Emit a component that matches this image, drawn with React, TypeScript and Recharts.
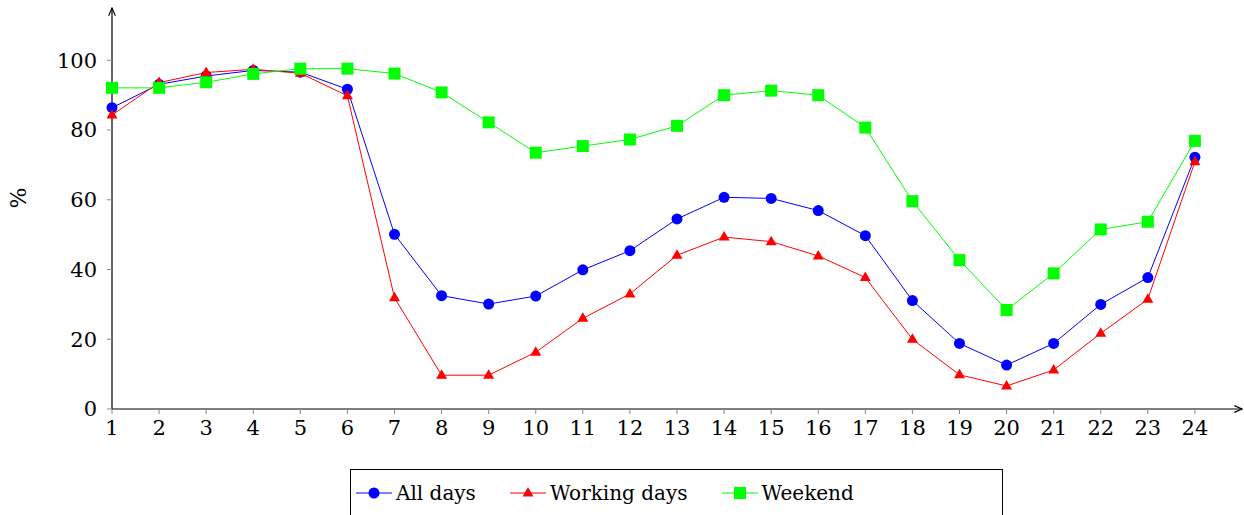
import { LineChart, Line, XAxis, YAxis, Legend } from "recharts"

// Hour of day
const hours = [1, 2, 3, 4, 5, 6, 7, 8, 9, 10, 11, 12, 13, 14, 15, 16, 17, 18, 19, 20, 21, 22, 23, 24]

// Share in %
const allDays = [86.4, 93.1, 95.5, 97.1, 96.6, 91.7, 50.1, 32.5, 30.1, 32.4, 39.9, 45.4, 54.5, 60.7, 60.4, 56.9, 49.7, 31.1, 18.8, 12.6, 18.8, 30.0, 37.7, 72.2]
const workingDays = [84.3, 93.6, 96.5, 97.4, 96.3, 89.8, 31.9, 9.7, 9.7, 16.3, 26.0, 33.0, 44.1, 49.3, 48.0, 43.9, 37.7, 20.0, 9.8, 6.6, 11.2, 21.7, 31.5, 70.9]
const weekend = [92.1, 92.1, 93.7, 96.1, 97.6, 97.6, 96.2, 90.8, 82.2, 73.5, 75.4, 77.3, 81.2, 90.0, 91.3, 90.0, 80.7, 59.6, 42.7, 28.4, 38.9, 51.5, 53.7, 76.9]

const yTicks = [0, 20, 40, 60, 80, 100]

const data = hours.map((h, i) => ({
  hour: h,
  all: allDays[i],
  working: workingDays[i],
  weekend: weekend[i],
}))

const FONT = "DejaVu Serif"

const SERIES = [
  { key: "all", name: "All days", color: "#0000ff", shape: "circle" },
  { key: "working", name: "Working days", color: "#ff0000", shape: "triangle" },
  { key: "weekend", name: "Weekend", color: "#00ff00", shape: "square" },
]

function Marker({ cx, cy, shape, color }: { cx: number; cy: number; shape: string; color: string }) {
  if (cx == null || cy == null) return null
  if (shape === "circle") return <circle cx={cx} cy={cy} r={5.5} fill={color} />
  if (shape === "triangle")
    return <polygon points={`${cx},${cy - 6} ${cx + 5.5},${cy + 3.5} ${cx - 5.5},${cy + 3.5}`} fill={color} />
  return <rect x={cx - 6} y={cy - 6} width={12} height={12} fill={color} />
}

function LegendBox() {
  return (
    <div
      style={{
        border: "1px solid #000",
        height: 48,
        display: "flex",
        alignItems: "center",
        fontFamily: FONT,
        fontSize: 20,
        paddingLeft: 5,
        boxSizing: "border-box",
        background: "#fff",
      }}
    >
      {SERIES.map((s, i) => (
        <div key={s.key} style={{ display: "flex", alignItems: "center", marginRight: i < 2 ? 34 : 0 }}>
          <svg width={36} height={16} style={{ marginRight: 4 }}>
            <line x1={0} y1={8} x2={36} y2={8} stroke={s.color} strokeWidth={1} />
            <Marker cx={18} cy={8} shape={s.shape} color={s.color} />
          </svg>
          <span>{s.name}</span>
        </div>
      ))}
    </div>
  )
}

export default function App() {
  return (
    <div style={{ position: "absolute", left: 0, top: 0, width: 1244, height: 515, background: "#fff", fontFamily: FONT }}>
      <LineChart width={1244} height={515} data={data} margin={{ top: 8, right: 2, left: 0, bottom: 28 }} style={{ fontFamily: FONT }}>
        <defs>
          <marker id="arrow" viewBox="0 0 10 10" refX="9" refY="5" markerWidth="8" markerHeight="8" orient="auto-start-reverse">
            <path d="M1,1.5 L9,5 L1,8.5" fill="none" stroke="#000" strokeWidth={1.2} />
          </marker>
        </defs>
        <XAxis
          dataKey="hour"
          type="number"
          domain={[1, 25]}
          ticks={hours}
          interval={0}
          height={30}
          tickSize={5}
          tickMargin={6}
          fontSize={21}
          fontFamily={FONT}
          axisLine={{ stroke: "#000", strokeWidth: 1.2, markerEnd: "url(#arrow)" }}
          tickLine={{ stroke: "#888" }}
          tick={{ fill: "#000", fontFamily: FONT, fontSize: 21 }}
        />
        <YAxis
          type="number"
          domain={[0, 115]}
          ticks={yTicks}
          width={112}
          tickSize={5}
          tickMargin={10}
          fontSize={21}
          fontFamily={FONT}
          axisLine={{ stroke: "#000", strokeWidth: 1.2, markerStart: "url(#arrow)" }}
          tickLine={{ stroke: "#888" }}
          tick={{ fill: "#000", fontFamily: FONT, fontSize: 21 }}
          label={{ value: "%", angle: -90, position: "insideLeft", offset: 18, fill: "#000", fontFamily: FONT, fontSize: 22 }}
        />
        <Legend
          content={() => <LegendBox />}
          wrapperStyle={{ position: "absolute", left: 350, top: 469, width: 653, height: 48, bottom: "auto" }}
        />
        {SERIES.map((s) => (
          <Line
            key={s.key}
            dataKey={s.key}
            name={s.name}
            type="linear"
            stroke={s.color}
            strokeWidth={1}
            isAnimationActive={false}
            dot={(p: any) => <Marker key={`${s.key}-${p.index}`} cx={p.cx} cy={p.cy} shape={s.shape} color={s.color} />}
            activeDot={false}
          />
        ))}
      </LineChart>
    </div>
  )
}
